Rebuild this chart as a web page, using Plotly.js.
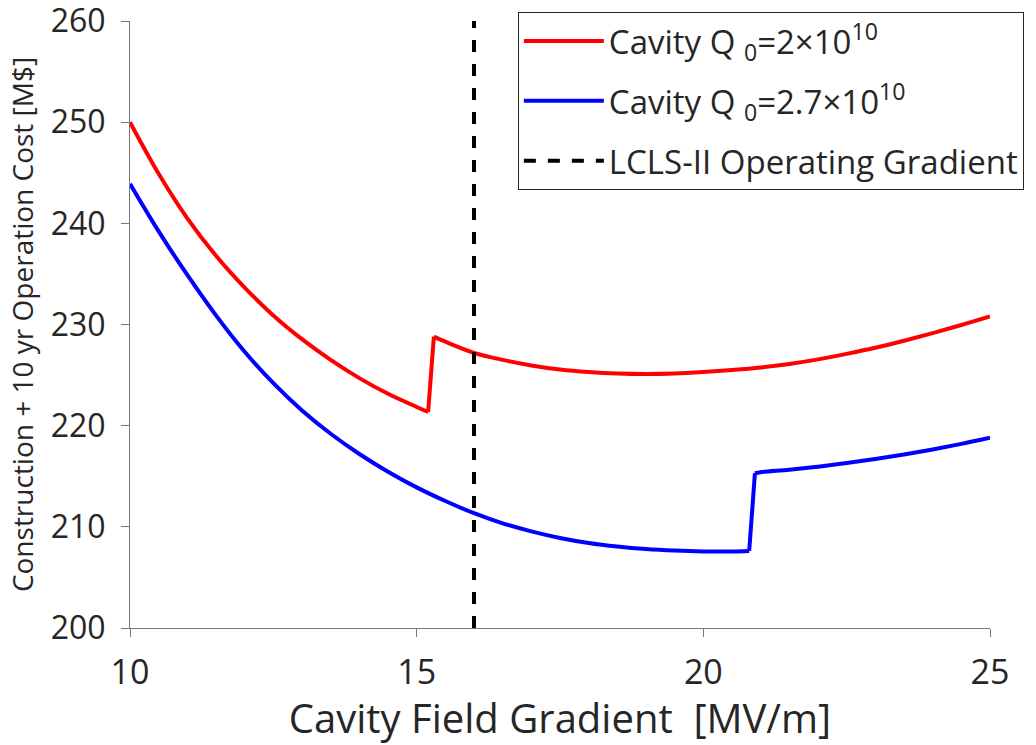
<!DOCTYPE html>
<html>
<head>
<meta charset="utf-8">
<script src="https://cdn.plot.ly/plotly-3.0.1.min.js"></script>
<style>
  html, body { margin: 0; padding: 0; background: #fff; }
  #chart { width: 1036px; height: 745px; }
</style>
</head>
<body>
<div id="chart"></div>
<script>
// Cavity field gradient [MV/m] and total cost (construction + 10 yr operation) [M$]
const gradQ20 = [10, 10.5, 11, 11.5, 12, 12.5, 13, 13.5, 14, 14.5, 15, 15.2,
                 15.3, 15.5, 16, 16.5, 17, 17.5, 18, 18.5, 19, 19.5, 20, 20.5,
                 21, 21.5, 22, 22.5, 23, 23.5, 24, 24.5, 25];
const costQ20 = [250.0, 244.9, 240.5, 236.8, 233.65, 230.9, 228.55, 226.5, 224.7, 223.15, 221.85, 221.35,
                 228.8, 228.3, 227.2, 226.5, 225.95, 225.55, 225.3, 225.15, 225.1, 225.15, 225.3, 225.5,
                 225.75, 226.1, 226.55, 227.1, 227.7, 228.4, 229.15, 229.95, 230.8];

const gradQ27 = [10, 10.5, 11, 11.5, 12, 12.5, 13, 13.5, 14, 14.5, 15, 15.5, 16, 16.5,
                 17, 17.5, 18, 18.5, 19, 19.5, 20, 20.5, 20.8,
                 20.9, 21, 21.5, 22, 22.5, 23, 23.5, 24, 24.5, 25];
const costQ27 = [243.9, 239.2, 234.9, 230.9, 227.3, 224.2, 221.5, 219.2, 217.2, 215.45, 213.9, 212.55, 211.35, 210.35,
                 209.55, 208.9, 208.4, 208.05, 207.8, 207.65, 207.57, 207.57, 207.62,
                 215.3, 215.4, 215.65, 215.95, 216.3, 216.7, 217.15, 217.65, 218.2, 218.8];

// LCLS-II operating gradient marker
const lclsGradient = 16;
const yRange = [200, 260];

const xTicks = [10, 15, 20, 25];
const yTicks = [200, 210, 220, 230, 240, 250, 260];

const FONT = 'Open Sans, sans-serif';
const TEXT = '#262626';
const AXIS = '#777777';

// Split a series at its step (where cost jumps up), so the smooth parts
// are drawn as splines and the step itself as a straight segment.
function stepIndex(ys) {
  for (let i = 1; i < ys.length; i++) if (ys[i] - ys[i - 1] > 3) return i;
  return -1;
}

function seriesTraces(xs, ys, name, color, group) {
  const k = stepIndex(ys);
  const base = { type: 'scatter', mode: 'lines', legendgroup: group, name: name };
  return [
    Object.assign({}, base, { x: xs.slice(0, k), y: ys.slice(0, k),
      line: { color: color, width: 4, shape: 'spline', smoothing: 1 }, showlegend: true }),
    Object.assign({}, base, { x: xs.slice(k - 1, k + 1), y: ys.slice(k - 1, k + 1),
      line: { color: color, width: 4 }, showlegend: false }),
    Object.assign({}, base, { x: xs.slice(k), y: ys.slice(k),
      line: { color: color, width: 4, shape: 'spline', smoothing: 1 }, showlegend: false })
  ];
}

const traces = [].concat(
  seriesTraces(gradQ20, costQ20, 'Cavity Q <sub>0</sub>=2×10<sup>10</sup>', '#ff0000', 'a'),
  seriesTraces(gradQ27, costQ27, 'Cavity Q <sub>0</sub>=2.7×10<sup>10</sup>', '#0000ff', 'b'),
  [{
    x: [lclsGradient, lclsGradient], y: yRange, mode: 'lines', type: 'scatter',
    name: 'LCLS-II Operating Gradient',
    line: { color: '#000000', width: 4, dash: 'dash' }, legendgroup: 'c'
  }]
);

const layout = {
  width: 1036, height: 745,
  margin: { l: 130, r: 43, t: 21, b: 117 },
  paper_bgcolor: '#ffffff', plot_bgcolor: '#ffffff',
  font: { family: FONT, color: TEXT },
  showlegend: true,
  legend: {
    x: 0.451, y: 1.0148, xanchor: 'left', yanchor: 'top',
    bgcolor: '#ffffff', bordercolor: '#262626', borderwidth: 1,
    font: { family: FONT, size: 33, color: TEXT },
    itemwidth: 80, tracegroupgap: 14
  },
  xaxis: {
    range: [10, 25], tickvals: xTicks, ticktext: xTicks.map(String),
    showgrid: false, zeroline: false, showline: true, linecolor: AXIS, linewidth: 1,
    ticks: 'outside', ticklen: 8, tickcolor: AXIS, mirror: false,
    ticklabeloverflow: 'allow', ticklabelstandoff: 6,
    tickfont: { family: FONT, size: 34, color: TEXT },
    title: { text: 'Cavity Field Gradient  [MV/m]', font: { family: FONT, size: 40, color: TEXT }, standoff: 2 }
  },
  yaxis: {
    range: yRange, tickvals: yTicks, ticktext: yTicks.map(String),
    showgrid: false, zeroline: false, showline: true, linecolor: AXIS, linewidth: 1,
    ticks: 'outside', ticklen: 8, tickcolor: AXIS, mirror: false,
    ticklabeloverflow: 'allow', ticklabelstandoff: 9,
    tickfont: { family: FONT, size: 32, color: TEXT },
    title: { text: 'Construction + 10 yr Operation Cost [M$]', font: { family: FONT, size: 28, color: TEXT }, standoff: 8 }
  }
};

Plotly.newPlot('chart', traces, layout, { displayModeBar: false, staticPlot: true });
</script>
</body>
</html>
